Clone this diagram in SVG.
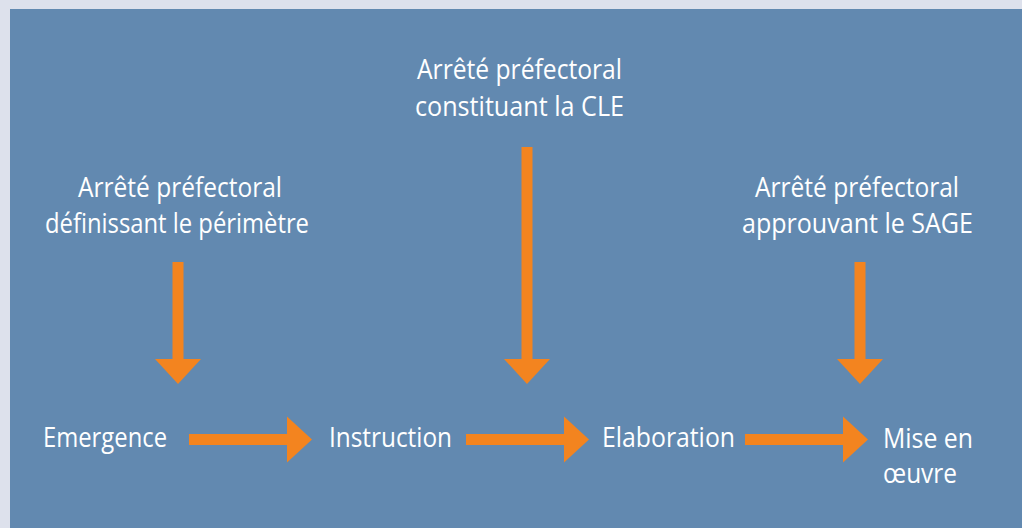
<svg xmlns="http://www.w3.org/2000/svg" width="1022" height="528" viewBox="0 0 1022 528">
<style>
.t{font-family:"Open Sans","Noto Sans","DejaVu Sans",sans-serif;font-size:28px;fill:#ffffff}
.a{fill:#f3841f}
</style>
<defs>
<path id="down" d="M-5.5,0 H5.5 V97 H23 L0,122 L-23,97 H-5.5 Z"/>
<path id="downlong" d="M-5.5,0 H5.5 V212 H23 L0,237 L-23,212 H-5.5 Z"/>
<path id="right" d="M0,-5.5 H98 V-23 L123,0 L98,23 V5.5 H0 Z"/>
</defs>
<rect x="0" y="0" width="1022" height="528" fill="#dde1ec"/>
<rect x="10" y="9" width="1012" height="519" fill="#6289b0"/>
<g id="connectors">
<use href="#down" class="a" x="178" y="262"/>
<use href="#downlong" class="a" x="527" y="147"/>
<use href="#down" class="a" x="860" y="262"/>
<use href="#right" class="a" x="189" y="439.5"/>
<use href="#right" class="a" x="466" y="439.5"/>
<use href="#right" class="a" x="745" y="439.5"/>
</g>
<g id="label-perimetre">
<text class="t" x="78" y="197" textLength="204" lengthAdjust="spacingAndGlyphs">Arrêté préfectoral</text>
<text class="t" x="45" y="233" textLength="264" lengthAdjust="spacingAndGlyphs">définissant le périmètre</text>
</g>
<g id="label-cle">
<text class="t" x="417" y="79" textLength="205" lengthAdjust="spacingAndGlyphs">Arrêté préfectoral</text>
<text class="t" x="415" y="116" textLength="209" lengthAdjust="spacingAndGlyphs">constituant la CLE</text>
</g>
<g id="label-sage">
<text class="t" x="755" y="197" textLength="204" lengthAdjust="spacingAndGlyphs">Arrêté préfectoral</text>
<text class="t" x="742" y="233" textLength="231" lengthAdjust="spacingAndGlyphs">approuvant le SAGE</text>
</g>
<g id="node-emergence">
<text class="t" x="43" y="447" textLength="124" lengthAdjust="spacingAndGlyphs">Emergence</text>
</g>
<g id="node-instruction">
<text class="t" x="329" y="447" textLength="123" lengthAdjust="spacingAndGlyphs">Instruction</text>
</g>
<g id="node-elaboration">
<text class="t" x="602" y="447" textLength="133" lengthAdjust="spacingAndGlyphs">Elaboration</text>
</g>
<g id="node-mise-en-oeuvre">
<text class="t" x="883" y="448" textLength="90" lengthAdjust="spacingAndGlyphs">Mise en</text>
<text class="t" x="883" y="483" textLength="74" lengthAdjust="spacingAndGlyphs">œuvre</text>
</g>
</svg>
